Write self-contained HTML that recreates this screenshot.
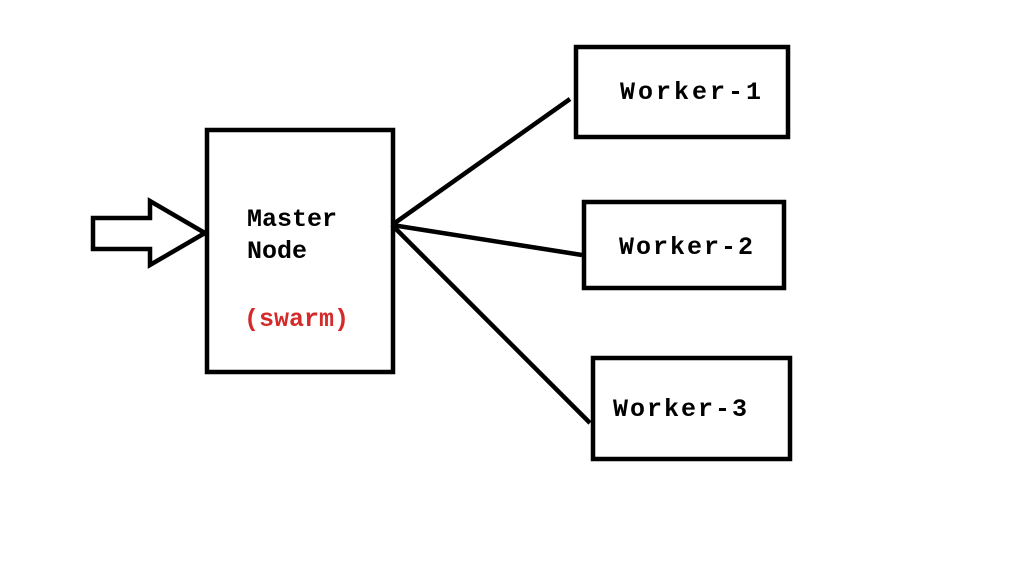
<!DOCTYPE html>
<html><head><style>
html,body{margin:0;padding:0;background:#fff;}
svg text{font-family:"Liberation Mono",monospace;font-weight:bold;font-size:25px;}
</style></head><body>
<svg width="1031" height="573" viewBox="0 0 1031 573" xmlns="http://www.w3.org/2000/svg">
<rect width="1031" height="573" fill="#fff"/>
<g fill="none" stroke="#000" stroke-width="4.5" stroke-linejoin="miter">
<rect x="207" y="130" width="186" height="242"/>
<rect x="576" y="47" width="212" height="90"/>
<rect x="584" y="202" width="200" height="86"/>
<rect x="593" y="358" width="197" height="101"/>
<polygon points="93,218 150,218 150,201 205,233 150,265 150,249 93,249"/>
<line x1="392" y1="225" x2="570" y2="99"/>
<line x1="392" y1="225" x2="582" y2="255"/>
<line x1="392" y1="225" x2="590" y2="423"/>
</g>
<text x="247" y="226" letter-spacing="0">Master</text>
<text x="247" y="258" letter-spacing="0">Node</text>
<text x="244" y="326" fill="#d42a2a" letter-spacing="0">(swarm)</text>
<text x="620" y="99" letter-spacing="3">Worker-1</text>
<text x="619" y="254" letter-spacing="2">Worker-2</text>
<text x="613" y="416" letter-spacing="2">Worker-3</text>
</svg>
</body></html>
